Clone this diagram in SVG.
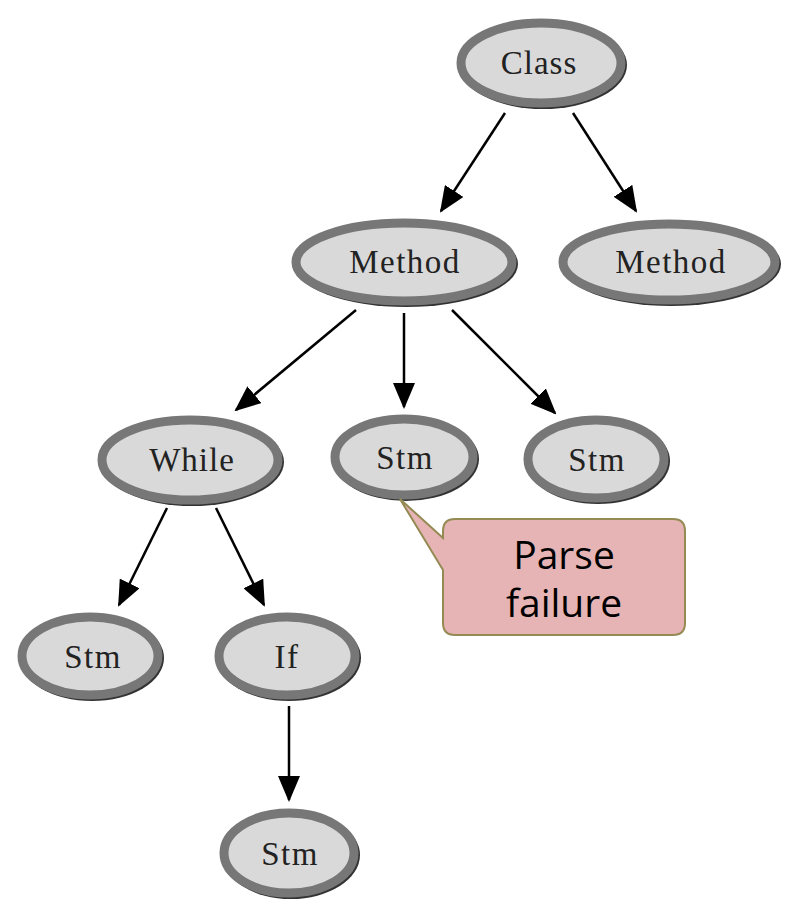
<svg xmlns="http://www.w3.org/2000/svg" width="800" height="909" viewBox="0 0 800 909">
<style>
.sh{fill:#333}
.nd{fill:#d9d9d9;stroke:#777;stroke-width:9}
.lb{font-family:"Liberation Serif",serif;font-size:33px;fill:#222;text-anchor:middle}
.ed{stroke:#000;stroke-width:2.5;fill:none;marker-end:url(#ah)}
.co{font-family:"Open Sans","Noto Sans",sans-serif;font-size:39px;fill:#000;text-anchor:middle}
</style>
<defs>
<marker id="ah" viewBox="0 0 26 22" refX="24" refY="11" markerWidth="26" markerHeight="22" markerUnits="userSpaceOnUse" orient="auto">
<path d="M0,0 L26,11 L0,22 Z" fill="#000"/>
</marker>
</defs>
<rect width="800" height="909" fill="#fff"/>
<g id="connectors">
<line class="ed" x1="505" y1="113" x2="441" y2="211"/>
<line class="ed" x1="573" y1="113" x2="636" y2="211"/>
<line class="ed" x1="356" y1="310" x2="236" y2="410"/>
<line class="ed" x1="404" y1="313" x2="404" y2="407"/>
<line class="ed" x1="452" y1="310" x2="555" y2="413"/>
<line class="ed" x1="167" y1="508" x2="119" y2="605"/>
<line class="ed" x1="216" y1="508" x2="264" y2="605"/>
<line class="ed" x1="289" y1="706" x2="289" y2="800"/>
</g>
<g id="n_class"><ellipse class="sh" cx="543" cy="65" rx="84" ry="44"/><ellipse class="nd" cx="541" cy="63" rx="80" ry="40"/><text class="lb" x="539" y="74" letter-spacing="1">Class</text></g>
<g id="n_method1"><ellipse class="sh" cx="406" cy="264" rx="112" ry="43"/><ellipse class="nd" cx="404" cy="262" rx="108" ry="39"/><text class="lb" x="405" y="273" letter-spacing="1.5">Method</text></g>
<g id="n_method2"><ellipse class="sh" cx="671" cy="264" rx="110" ry="42"/><ellipse class="nd" cx="669" cy="262" rx="106" ry="38"/><text class="lb" x="671" y="273" letter-spacing="1.5">Method</text></g>
<g id="n_while"><ellipse class="sh" cx="192" cy="462" rx="92" ry="44"/><ellipse class="nd" cx="190" cy="460" rx="88" ry="40"/><text class="lb" x="192" y="471" letter-spacing="1">While</text></g>
<g id="n_stm1"><ellipse class="sh" cx="406" cy="459" rx="73" ry="42"/><ellipse class="nd" cx="404" cy="457" rx="69" ry="38"/><text class="lb" x="405" y="469" letter-spacing="1.5">Stm</text></g>
<g id="n_stm2"><ellipse class="sh" cx="598" cy="461" rx="72" ry="43"/><ellipse class="nd" cx="596" cy="459" rx="68" ry="39"/><text class="lb" x="597" y="471" letter-spacing="1.5">Stm</text></g>
<g id="n_stm3"><ellipse class="sh" cx="92" cy="658" rx="72" ry="43"/><ellipse class="nd" cx="90" cy="656" rx="68" ry="39"/><text class="lb" x="93" y="668" letter-spacing="1.5">Stm</text></g>
<g id="n_if"><ellipse class="sh" cx="289" cy="658" rx="72" ry="43"/><ellipse class="nd" cx="287" cy="656" rx="68" ry="39"/><text class="lb" x="287" y="668" letter-spacing="1.5">If</text></g>
<g id="n_stm4"><ellipse class="sh" cx="291" cy="855" rx="69" ry="44"/><ellipse class="nd" cx="289" cy="853" rx="65" ry="40"/><text class="lb" x="290" y="865" letter-spacing="1.5">Stm</text></g>
<g id="callout">
<path d="M455,519 H673 Q685,519 685,531 V623 Q685,635 673,635 H455 Q443,635 443,623 V570 L400,499 L443,538 V531 Q443,519 455,519 Z" fill="#e6b4b4" stroke="#948a54" stroke-width="2"/>
<text class="co" x="564" y="569">Parse</text>
<text class="co" x="564" y="617">failure</text>
</g>
</svg>
